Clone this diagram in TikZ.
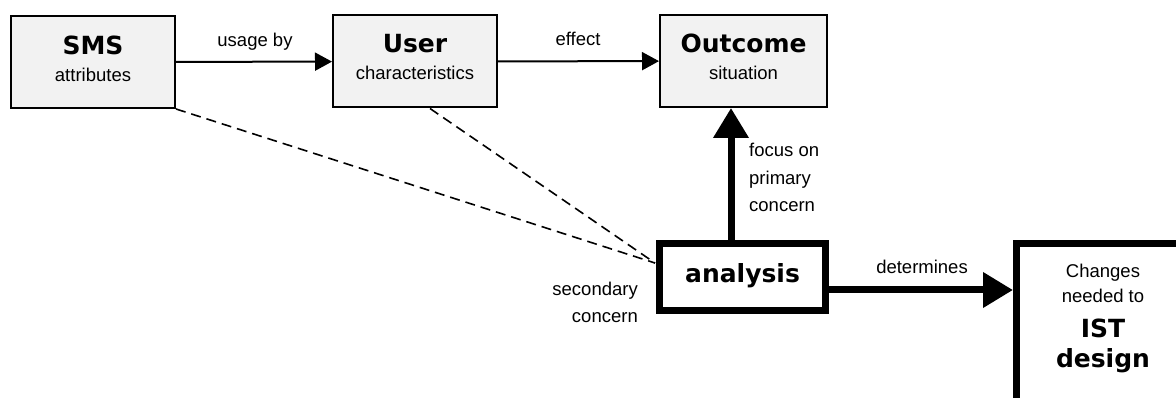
\documentclass[tikz,border=0pt]{standalone}
\usepackage{fontspec}
\setmainfont{Liberation Sans}
\newfontfamily\vb{DejaVu Sans}
\usetikzlibrary{arrows.meta}
\tikzset{
  lightbox/.style={draw=black,line width=2pt,fill=black!5,minimum width=164pt,minimum height=92pt,inner sep=0pt},
  heavybox/.style={draw=black,line width=7pt,fill=white,inner sep=0pt},
  small/.style={font=\fontsize{18.5}{22}\selectfont,inner sep=0pt},
  big/.style={font=\fontsize{25}{30}\selectfont\vb\bfseries,inner sep=0pt},
  thinarrow/.style={line width=2pt,-{Triangle[length=17pt,width=18pt]}},
  thickarrow/.style={line width=7pt,-{Triangle[length=30pt,width=34pt]}},
  dashline/.style={line width=1.6pt,dash pattern=on 10pt off 6pt},
}
\begin{document}
\begin{tikzpicture}[x=1pt,y=-1pt]
\useasboundingbox (0,0) rectangle (1176,398);
% boxes
\node[lightbox] (sms) at (93,62) {};
\node[lightbox] (user) at (415,61.5) {};
\node[lightbox,minimum width=167pt] (outcome) at (743.5,61) {};
\node[heavybox,minimum width=166pt,minimum height=67pt] (analysis) at (742.5,277) {};
\node[heavybox,minimum width=200pt,minimum height=200pt] (ist) at (1116.5,343.5) {};
% box texts
\node[big,anchor=base] (smsT) at (93,55) {SMS};
\node[small,anchor=base] (smsS) at (93,82) {attributes};
\node[big,anchor=base] (userT) at (415,53) {User};
\node[small,anchor=base] (userS) at (415,80) {characteristics};
\node[big,anchor=base] (outT) at (743.5,53) {Outcome};
\node[small,anchor=base] (outS) at (743.5,80) {situation};
\node[big,anchor=base] (anT) at (742.5,283) {analysis};
\node[small,anchor=base] (ist1) at (1103,277) {Changes};
\node[small,anchor=base] (ist2) at (1103,302) {needed to};
\node[big,anchor=base] (ist3) at (1103,337) {IST};
\node[big,anchor=base] (ist4) at (1103,367) {design};
% coordinates
\coordinate (fx) at (731,0);
\coordinate (dy) at (0,290);
\coordinate (meet) at (655,263);
% connectors
\draw[thinarrow] (sms) -- (user);
\draw[thinarrow] (user) -- (outcome);
\draw[thickarrow] (analysis.north -| fx) -- (outcome.south -| fx);
\draw[thickarrow] (analysis.east |- dy) -- (ist.west |- dy);
\draw[dashline] (sms.south east) -- (meet);
\draw[dashline] ([xshift=15pt]user.south) -- (meet);
% labels
\node[small,anchor=base] (l1) at (255,47) {usage by};
\node[small,anchor=base] (l2) at (578,46) {effect};
\node[small,anchor=base west] (l3) at (749,157) {focus on};
\node[small,anchor=base west] (l4) at (749,184.5) {primary};
\node[small,anchor=base west] (l5) at (749,212) {concern};
\node[small,anchor=base] (l6) at (922,273) {determines};
\node[small,anchor=base east] (l7) at (638,295) {secondary};
\node[small,anchor=base east] (l8) at (638,322) {concern};
\end{tikzpicture}
\end{document}
